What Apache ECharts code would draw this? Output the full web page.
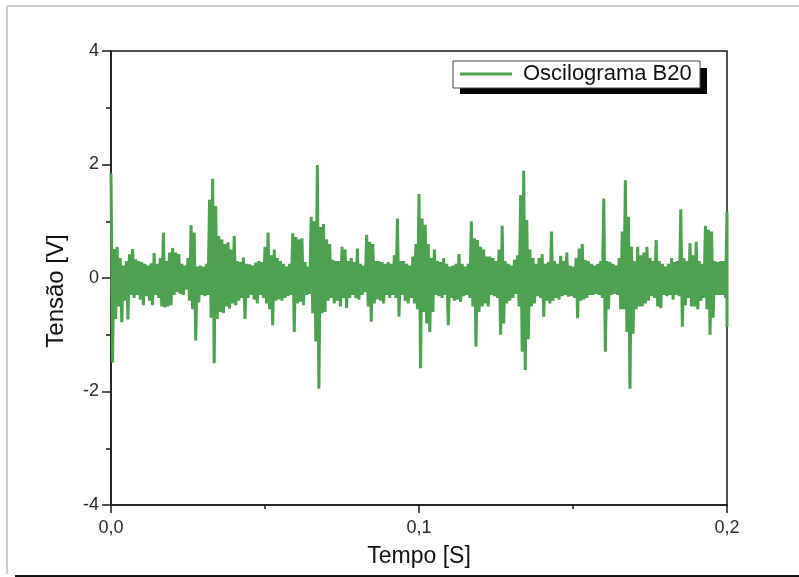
<!DOCTYPE html>
<html><head><meta charset="utf-8">
<script src="https://cdn.jsdelivr.net/npm/echarts@6/dist/echarts.min.js"></script>
<style>html,body{margin:0;padding:0;background:#fff}#c{width:799px;height:577px}</style>
</head><body><div id="c"></div>
<script>
// Oscilograma B20 — tension envelope, one high/low pair per 1 ms
const seriesName = 'Oscilograma B20';
const sampleStep = 0.001; // seconds between samples
const hi = [1.84,0.51,0.55,0.35,0.22,0.3,0.42,0.51,0.33,0.3,
0.28,0.25,0.22,0.26,0.44,0.25,0.35,0.8,0.3,0.45,
0.53,0.45,0.42,0.25,0.22,0.35,0.93,0.8,0.2,0.22,
0.2,0.25,1.38,1.75,1.27,0.74,0.68,0.6,0.63,0.5,
0.74,0.3,0.28,0.36,0.25,0.24,0.22,0.27,0.3,0.28,
0.55,0.8,0.4,0.5,0.35,0.3,0.25,0.2,0.25,0.79,
0.72,0.68,0.7,0.28,0.2,1.08,1.0,1.99,0.9,0.95,
0.68,0.6,0.32,0.3,0.3,0.55,0.5,0.3,0.35,0.28,
0.52,0.25,0.22,0.76,0.64,0.6,0.3,0.3,0.28,0.25,
0.28,0.25,0.4,1.05,0.3,0.3,0.25,0.22,0.38,0.6,
1.48,1.05,0.94,0.6,0.35,0.5,0.3,0.28,0.35,0.25,
0.2,0.22,0.25,0.42,0.25,0.2,0.25,1.0,0.7,0.67,
0.55,0.5,0.38,0.38,0.35,0.3,0.5,0.92,0.3,0.25,
0.22,0.32,0.4,1.46,1.89,1.02,0.5,0.35,0.25,0.35,
0.42,0.25,0.28,0.82,0.3,0.25,0.39,0.3,0.45,0.22,
0.2,0.35,0.52,0.6,0.32,0.3,0.25,0.22,0.25,0.3,
1.4,0.3,0.28,0.25,0.22,0.35,0.82,1.72,1.08,0.55,
0.3,0.55,0.4,0.45,0.55,0.35,0.3,0.67,0.3,0.25,
0.2,0.25,0.35,0.28,0.3,1.21,0.35,0.3,0.61,0.4,
0.64,0.3,0.25,0.92,0.85,0.82,0.3,0.28,0.3,0.3,
1.17];
const lo = [-1.49,-0.72,-0.5,-0.78,-0.4,-0.73,-0.3,-0.35,-0.3,-0.38,
-0.48,-0.32,-0.4,-0.48,-0.3,-0.35,-0.5,-0.52,-0.5,-0.48,
-0.3,-0.25,-0.28,-0.3,-0.2,-0.4,-0.55,-1.1,-0.43,-0.3,
-0.32,-0.3,-0.7,-1.5,-0.72,-0.6,-0.62,-0.5,-0.54,-0.45,
-0.48,-0.4,-0.35,-0.72,-0.35,-0.3,-0.38,-0.45,-0.3,-0.35,
-0.45,-0.55,-0.83,-0.4,-0.38,-0.4,-0.35,-0.32,-0.3,-0.95,
-0.45,-0.42,-0.48,-0.3,-0.28,-0.62,-1.12,-1.95,-0.62,-0.6,
-0.4,-0.35,-0.45,-0.4,-0.5,-0.35,-0.53,-0.35,-0.3,-0.35,
-0.38,-0.3,-0.25,-0.5,-0.77,-0.45,-0.38,-0.4,-0.45,-0.3,
-0.35,-0.3,-0.35,-0.68,-0.3,-0.4,-0.45,-0.35,-0.45,-0.55,
-1.59,-0.6,-0.8,-0.95,-0.6,-0.3,-0.32,-0.35,-0.3,-0.83,
-0.35,-0.4,-0.38,-0.42,-0.32,-0.3,-0.35,-0.5,-1.21,-0.6,
-0.5,-0.45,-0.5,-0.3,-0.32,-0.35,-1.0,-0.8,-0.45,-0.4,
-0.35,-0.28,-0.5,-1.3,-1.62,-1.08,-0.5,-0.45,-0.32,-0.35,
-0.68,-0.4,-0.45,-0.4,-0.35,-0.38,-0.32,-0.3,-0.33,-0.32,
-0.35,-0.71,-0.4,-0.38,-0.35,-0.3,-0.3,-0.28,-0.3,-0.35,
-1.3,-0.55,-0.3,-0.28,-0.3,-0.55,-0.55,-0.95,-1.95,-0.98,
-0.55,-0.5,-0.5,-0.45,-0.4,-0.32,-0.35,-0.5,-0.53,-0.3,
-0.32,-0.3,-0.38,-0.3,-0.32,-0.86,-0.48,-0.35,-0.5,-0.5,
-0.55,-0.4,-0.35,-0.55,-1.0,-0.7,-0.3,-0.3,-0.3,-0.35,
-0.86];
const xRange = [0, 0.2];
const yRange = [-4, 4];

const data = [];
for (let i = 0; i < hi.length; i++) {
  const t = i * sampleStep;
  data.push([Math.min(t, xRange[1]), hi[i]]);
  data.push([Math.min(t + sampleStep / 2, xRange[1]), lo[i]]);
}

const FONT = "'Liberation Sans', Arial, sans-serif";
const AX = '#1a1a1a';
const chart = echarts.init(document.getElementById('c'), null, {renderer: 'canvas'});
chart.setOption({
  animation: false,
  backgroundColor: '#fff',
  grid: {left: 111, right: 72, top: 51, bottom: 72, show: true, borderColor: AX, borderWidth: 1.5, backgroundColor: 'transparent'},
  legend: {
    data: [seriesName], left: 460, top: 63, padding: 0,
    icon: 'rect', itemWidth: 52, itemHeight: 3,
    textStyle: {fontFamily: FONT, fontSize: 22, color: '#111', padding: [0, 0, 0, 6]},
    selectedMode: false
  },
  graphic: [
    {type: 'line', z: 0, shape: {x1: 7, y1: 6, x2: 799, y2: 6}, style: {stroke: '#bdbdbd', lineWidth: 1.5}},
    {type: 'line', z: 0, shape: {x1: 7, y1: 6, x2: 7, y2: 574}, style: {stroke: '#bdbdbd', lineWidth: 1.5}},
    {type: 'line', z: 0, shape: {x1: 15, y1: 576, x2: 799, y2: 576}, style: {stroke: '#111', lineWidth: 2}},
    {type: 'rect', z: 1, shape: {x: 460, y: 68, width: 247, height: 26}, style: {fill: '#000'}},
    {type: 'rect', z: 2, shape: {x: 453, y: 61, width: 247, height: 27}, style: {fill: '#fff', stroke: '#444', lineWidth: 1}}
  ],
  xAxis: {
    type: 'value', min: xRange[0], max: xRange[1], interval: 0.1,
    name: 'Tempo [S]', nameLocation: 'middle', nameGap: 40,
    nameTextStyle: {fontFamily: FONT, fontSize: 23, color: '#111'},
    axisLine: {onZero: false, lineStyle: {color: AX, width: 1.5}},
    axisTick: {show: true, inside: false, length: 8, lineStyle: {color: AX, width: 1.5}},
    minorTick: {show: true, splitNumber: 2, length: 4, lineStyle: {color: AX, width: 1.5}},
    splitLine: {show: false}, minorSplitLine: {show: false},
    axisLabel: {fontFamily: FONT, fontSize: 18, color: '#2a2a2a', margin: 14,
      formatter: v => v.toFixed(1).replace('.', ',')}
  },
  yAxis: {
    type: 'value', min: yRange[0], max: yRange[1], interval: 2,
    name: 'Tensão [V]', nameLocation: 'middle', nameGap: 43, nameRotate: 90,
    nameTextStyle: {fontFamily: FONT, fontSize: 24, color: '#111', padding: [0, 26, 0, 0]},
    axisLine: {show: true, onZero: false, lineStyle: {color: AX, width: 1.5}},
    axisTick: {show: true, inside: false, length: 9, lineStyle: {color: AX, width: 1.5}},
    minorTick: {show: true, splitNumber: 2, length: 5, lineStyle: {color: AX, width: 1.5}},
    splitLine: {show: false}, minorSplitLine: {show: false},
    axisLabel: {fontFamily: FONT, fontSize: 18, color: '#2a2a2a', margin: 12}
  },
  series: [{
    name: seriesName, type: 'line', data: data,
    showSymbol: false, symbol: 'none', sampling: null, clip: true,
    lineStyle: {color: '#4ca24e', width: 3},
    itemStyle: {color: '#4ca24e'}
  }]
});
</script>
</body></html>
